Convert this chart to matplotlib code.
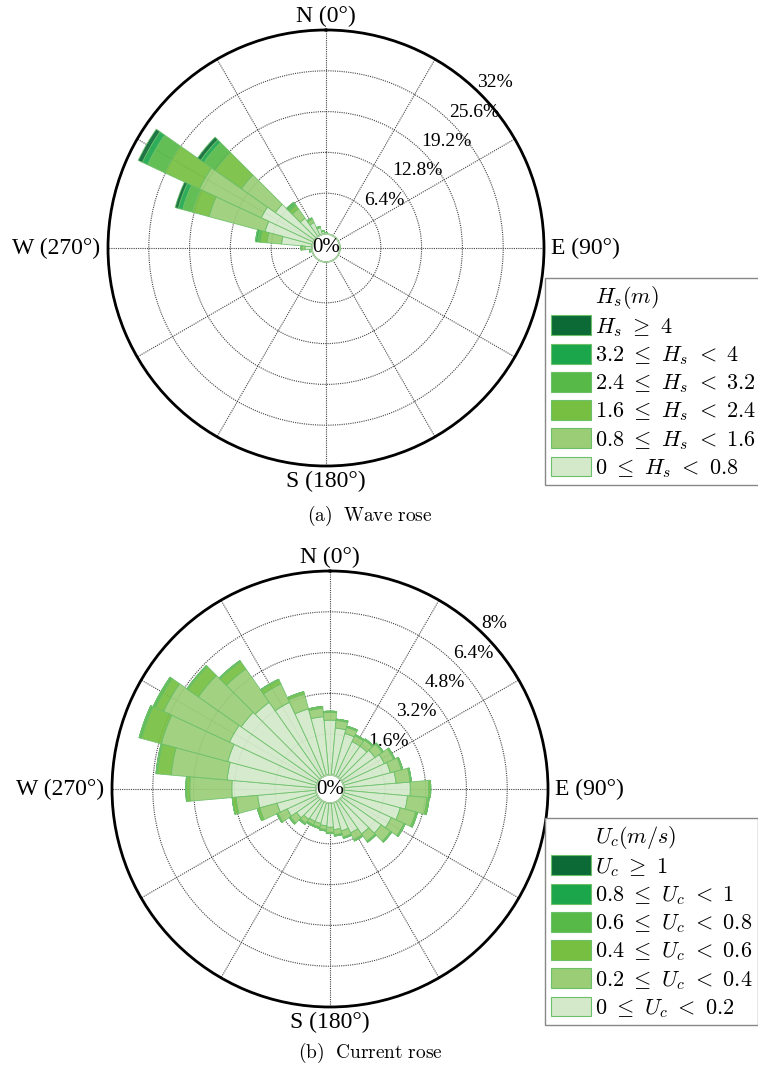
import numpy as np
import matplotlib.pyplot as plt
from matplotlib.patches import Patch

plt.rcParams['mathtext.fontset'] = 'cm'
SERIF = ['Liberation Serif', 'DejaVu Serif']

# ---- wave rose: % of time per 10 deg sector, split by Hs class ----
wave_dir = [0, 260, 270, 280, 290, 300, 310, 320, 330, 340, 350]
hs_00_08 = [0.2, 0.4, 1.1, 4.8, 7.7, 9.0, 7.5, 3.5, 2.2, 1.1, 0.5]
hs_08_16 = [0.0, 0.0, 0.5, 2.3, 9.1, 10.7, 6.5, 1.8, 0.6, 0.2, 0.0]
hs_16_24 = [0.0, 0.0, 0.1, 1.0, 2.7, 6.0, 5.0, 0.6, 0.2, 0.0, 0.0]
hs_24_32 = [0.0, 0.0, 0.0, 0.5, 1.6, 3.0, 2.2, 0.4, 0.0, 0.0, 0.0]
hs_32_40 = [0.0, 0.0, 0.0, 0.3, 0.7, 0.9, 0.6, 0.2, 0.0, 0.0, 0.0]
hs_40 = [0.0, 0.0, 0.0, 0.0, 0.5, 0.7, 0.6, 0.1, 0.0, 0.0, 0.0]
wave_ticks = [6.4, 12.8, 19.2, 25.6, 32]
wave_labels = [r'$H_s\ \geq\ 4$', r'$3.2\ \leq\ H_s\ <\ 4$', r'$2.4\ \leq\ H_s\ <\ 3.2$',
               r'$1.6\ \leq\ H_s\ <\ 2.4$', r'$0.8\ \leq\ H_s\ <\ 1.6$',
               r'$0\ \leq\ H_s\ <\ 0.8$']

# ---- current rose: % of time per 10 deg sector, split by Uc class ----
cur_dir = list(range(0, 360, 10))
uc_00_02 = [2.15, 1.85, 1.7, 1.5, 1.5, 1.6, 1.8, 1.9, 2.05, 2.6, 2.5, 2.3,
            2.1, 1.9, 1.6, 1.35, 1.15, 1.05, 0.95, 0.9, 0.85, 0.85, 0.9, 1.05,
            1.3, 1.6, 2.3, 3.3, 3.5, 3.6, 3.8, 3.7, 3.6, 3.2, 2.7, 2.3]
uc_02_04 = [0.3, 0.3, 0.25, 0.25, 0.3, 0.35, 0.4, 0.45, 0.55, 0.72, 0.77, 0.63,
            0.55, 0.45, 0.35, 0.3, 0.25, 0.2, 0.2, 0.15, 0.15, 0.15, 0.2, 0.3,
            0.4, 0.7, 0.85, 1.65, 2.2, 2.7, 2.85, 2.05, 1.6, 0.8, 0.6, 0.33]
uc_04_06 = [0.05, 0.05, 0.05, 0.05, 0.05, 0.05, 0.05, 0.05, 0.05, 0.08, 0.08, 0.07,
            0.05, 0.05, 0.05, 0.05, 0.05, 0.05, 0.05, 0.05, 0.05, 0.05, 0.05, 0.05,
            0.05, 0.1, 0.15, 0.12, 0.55, 0.8, 0.35, 0.5, 0.35, 0.17, 0.1, 0.07]
uc_06_08 = [0, 0, 0, 0, 0, 0, 0, 0, 0, 0, 0, 0,
            0, 0, 0, 0, 0, 0, 0, 0, 0, 0, 0, 0,
            0, 0, 0, 0.03, 0.05, 0.1, 0.1, 0.05, 0.05, 0.03, 0, 0]
uc_08_10 = [0] * 36
uc_10 = [0] * 36
cur_ticks = [1.6, 3.2, 4.8, 6.4, 8]
cur_labels = [r'$U_c\ \geq\ 1$', r'$0.8\ \leq\ U_c\ <\ 1$', r'$0.6\ \leq\ U_c\ <\ 0.8$',
              r'$0.4\ \leq\ U_c\ <\ 0.6$', r'$0.2\ \leq\ U_c\ <\ 0.4$',
              r'$0\ \leq\ U_c\ <\ 0.2$']

colors = ['#d3e9c9', '#9acd76', '#77bf41', '#57b947', '#1ca64c', '#0b6a36']
edge = '#6cc06a'

fig = plt.figure(figsize=(7.58, 10.71), dpi=100)
W, H = 758, 1071
SIZE = 436


def rose(rect, dirs, layers, ticks, rmax, rorig):
    ax = fig.add_axes(rect, projection='polar')
    ax.set_theta_zero_location('N')
    ax.set_theta_direction(-1)
    ax.set_axisbelow(True)
    th = np.radians(dirs)
    bottom = np.zeros(len(dirs))
    for vals, c in zip(layers, colors):
        vals = np.array(vals, dtype=float)
        ax.bar(th, vals, width=np.radians(10), bottom=bottom, color=c,
               edgecolor=edge, linewidth=0.6, alpha=0.92, zorder=2)
        bottom += vals
    t = np.linspace(0, 2 * np.pi, 300)
    ax.plot(t, np.zeros_like(t), color='#a8d8a0', lw=1.2, clip_on=False, zorder=3)
    ax.set_ylim(0, rmax)
    ax.set_rorigin(rorig)
    ax.set_xticks(np.radians(np.arange(0, 360, 30)))
    ax.set_xticklabels([])
    ax.set_yticks(ticks)
    ax.set_yticklabels(['%g%%' % v for v in ticks], fontsize=14, family=SERIF)
    ax.set_rlabel_position(44)
    ax.grid(True, color='#444444', linestyle=(0, (1, 1)), linewidth=0.8)
    ax.spines['polar'].set_linewidth(2)
    ax.spines['polar'].set_color('black')
    ax.text(0.5, 0.5, '0%', transform=ax.transAxes, ha='center', va='center',
            fontsize=15, family=SERIF, zorder=5)
    # compass labels
    kw = dict(transform=ax.transAxes, fontsize=17, family=SERIF)
    ax.text(0.5, 1 + 3 / SIZE, 'N (0°)', ha='center', va='bottom', **kw)
    ax.text(0.5, -5 / SIZE, 'S (180°)', ha='center', va='top', **kw)
    ax.text(-8 / SIZE, 0.5, 'W (270°)', ha='right', va='center', **kw)
    ax.text(1 + 7 / SIZE, 0.5, 'E (90°)', ha='left', va='center', **kw)
    return ax


rose([108 / W, 1 - 466 / H, SIZE / W, SIZE / H], wave_dir,
     [hs_00_08, hs_08_16, hs_16_24, hs_24_32, hs_32_40, hs_40],
     wave_ticks, 32, -2.2)
rose([112 / W, 1 - 1007 / H, SIZE / W, SIZE / H], cur_dir,
     [uc_00_02, uc_02_04, uc_04_06, uc_06_08, uc_08_10, uc_10],
     cur_ticks, 8, -0.55)


def legend(title, labels, top):
    handles = [Patch(facecolor='none', edgecolor='none')]
    for c in colors[::-1]:
        handles.append(Patch(facecolor=c, edgecolor=edge, linewidth=0.8))
    fig.legend(handles, [title] + labels, loc='upper left',
               bbox_to_anchor=(545 / W, 1 - top / H), bbox_transform=fig.transFigure,
               prop={'size': 16}, handlelength=1.8, handleheight=1.0,
               handletextpad=0.2, labelspacing=0.22, borderpad=0.25,
               borderaxespad=0, fancybox=False, edgecolor='#888888', framealpha=1)


legend(r'$H_s(m)$', wave_labels, 278)
legend(r'$U_c(m/s)$', cur_labels, 818)

fig.text(370 / W, 1 - 516 / H, r'$\mathrm{(a)\ \ Wave\ rose}$', ha='center',
         va='center', fontsize=14)
fig.text(370 / W, 1 - 1053 / H, r'$\mathrm{(b)\ \ Current\ rose}$', ha='center',
         va='center', fontsize=14)

fig.savefig('out.png', dpi=100)
